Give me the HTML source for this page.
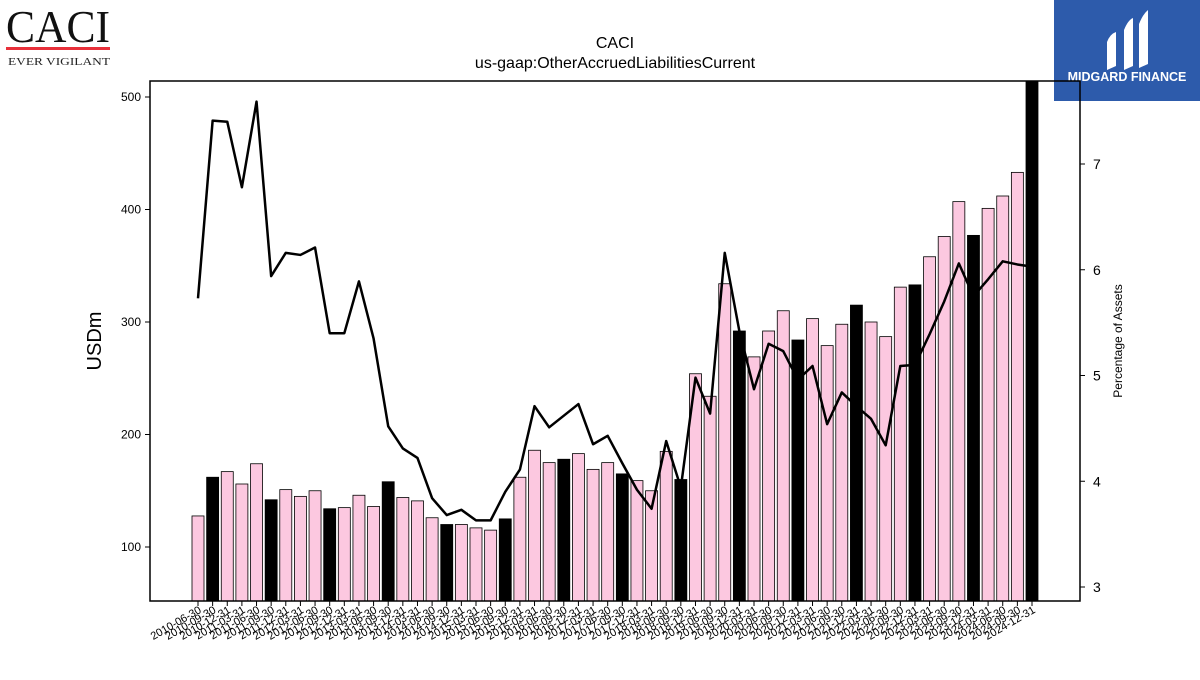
<!DOCTYPE html>
<html><head><meta charset="utf-8"><style>
body{margin:0;background:#fff;width:1200px;height:675px;overflow:hidden;font-family:"Liberation Sans",sans-serif}
</style></head><body>
<svg id="chart" width="1200" height="675" xmlns="http://www.w3.org/2000/svg" font-family="Liberation Sans, sans-serif">
<g>
<text x="6" y="42" font-family="Liberation Serif, serif" font-size="46" fill="#111" textLength="104" lengthAdjust="spacingAndGlyphs">CACI</text>
<rect x="6" y="47" width="104" height="3" fill="#e8303a"/>
<text x="8" y="65" font-family="Liberation Serif, serif" font-size="11" fill="#222" textLength="102" lengthAdjust="spacingAndGlyphs">EVER VIGILANT</text>
</g>
<g>
<rect x="1054" y="0" width="146" height="101" fill="#2d5bab"/>
<path d="M1107 70 L1107 42 Q1110 34 1116 32 L1116 66 Z" fill="#fff"/>
<path d="M1124 70 L1124 30 Q1128 20 1133 18 L1133 66 Z" fill="#fff"/>
<path d="M1139 68 L1139 24 Q1143 14 1148 10 L1148 64 Z" fill="#fff"/>
<text x="1127" y="81" text-anchor="middle" font-size="12.5" font-weight="bold" fill="#fff">MIDGARD FINANCE</text>
</g>
<text x="615" y="48" text-anchor="middle" font-size="16">CACI</text>
<text x="615" y="68" text-anchor="middle" font-size="16">us-gaap:OtherAccruedLiabilitiesCurrent</text>
<text transform="translate(101,341) rotate(-90)" text-anchor="middle" font-size="20">USDm</text>
<text transform="translate(1122,341) rotate(-90)" text-anchor="middle" font-size="12">Percentage of Assets</text>
<defs><clipPath id="pc"><rect x="150" y="81" width="930" height="520"/></clipPath></defs>
<g id="bars" clip-path="url(#pc)"></g>
<g id="line" clip-path="url(#pc)"></g>
<g id="axes"></g>
<rect x="150" y="81" width="930" height="520" fill="none" stroke="#000" stroke-width="1.5"/>
</svg>
<script>
const labels=["2010-06-30","2010-09-30","2010-12-31","2011-03-31","2011-06-30","2011-09-30","2011-12-31","2012-03-31","2012-06-30","2012-09-30","2012-12-31","2013-03-31","2013-06-30","2013-09-30","2013-12-31","2014-03-31","2014-06-30","2014-09-30","2014-12-31","2015-03-31","2015-06-30","2015-09-30","2015-12-31","2016-03-31","2016-06-30","2016-09-30","2016-12-31","2017-03-31","2017-06-30","2017-09-30","2017-12-31","2018-03-31","2018-06-30","2018-09-30","2018-12-31","2019-06-30","2019-09-30","2019-12-31","2020-03-31","2020-06-30","2020-09-30","2020-12-31","2021-03-31","2021-06-30","2021-09-30","2021-12-31","2022-03-31","2022-06-30","2022-09-30","2022-12-31","2023-03-31","2023-06-30","2023-09-30","2023-12-31","2024-03-31","2024-06-30","2024-09-30","2024-12-31"];
const values=[127.6,162,167,156,174,142,151,145,150,134,135,146,136,158,144,141,126,120,120,117,115,125,162,186,175,178,183,169,175,165,159,150,185,160,254,234,334,292,269,292,310,284,303,279,298,315,300,287,331,333,358,376,407,377,401,412,433,520];
const pct=[5.73,7.41,7.40,6.78,7.59,5.94,6.16,6.14,6.21,5.40,5.40,5.89,5.35,4.52,4.31,4.22,3.84,3.68,3.73,3.63,3.63,3.90,4.11,4.71,4.51,4.62,4.73,4.35,4.43,4.17,3.92,3.74,4.38,3.94,4.98,4.64,6.16,5.42,4.87,5.30,5.23,4.96,5.09,4.54,4.84,4.71,4.59,4.34,5.09,5.10,5.39,5.70,6.06,5.75,5.91,6.08,6.05,6.03];
const yTicks=[100,200,300,400,500];
const y2Ticks=[3,4,5,6,7];
const NS="http://www.w3.org/2000/svg";
const x=i=>198+i*(1032-198)/(values.length-1);
const y=v=>547-(v-100)*1.125;
const y2=v=>587-(v-3)*105.75;
function mk(t,a,p){const e=document.createElementNS(NS,t);for(const k in a)e.setAttribute(k,a[k]);p.appendChild(e);return e;}
const gb=document.getElementById('bars'),gl=document.getElementById('line'),ga=document.getElementById('axes');
const bw=12;
values.forEach((v,i)=>{
  const b=mk('rect',{x:x(i)-bw/2,y:y(v),width:bw,height:601-y(v),fill:i%4==1?'#000':'#fcc8e0',stroke:'#000','stroke-width':0.8},gb);
  
  
});
const pl=mk('polyline',{points:pct.map((v,i)=>x(i)+','+y2(v)).join(' '),fill:'none',stroke:'#000','stroke-width':2.5,'stroke-linejoin':'round'},gl);


yTicks.forEach(t=>{
  mk('line',{x1:145,x2:150,y1:y(t),y2:y(t),stroke:'#000'},ga);
  const tx=mk('text',{x:141,y:y(t)+4,'text-anchor':'end','font-size':12},ga);tx.textContent=t;
  
  
});
y2Ticks.forEach(t=>{
  mk('line',{x1:1080,x2:1085,y1:y2(t),y2:y2(t),stroke:'#000'},ga);
  const tx=mk('text',{x:1093,y:y2(t)+5,'font-size':14},ga);tx.textContent=t;
  
  
});
labels.forEach((l,i)=>{
  mk('line',{x1:x(i),x2:x(i),y1:601,y2:606,stroke:'#000'},ga);
  const tx=mk('text',{transform:`translate(${x(i)+4},${612}) rotate(-30)`,'text-anchor':'end','font-size':11},ga);tx.textContent=l;
  
  
});
</script>
</body></html>
